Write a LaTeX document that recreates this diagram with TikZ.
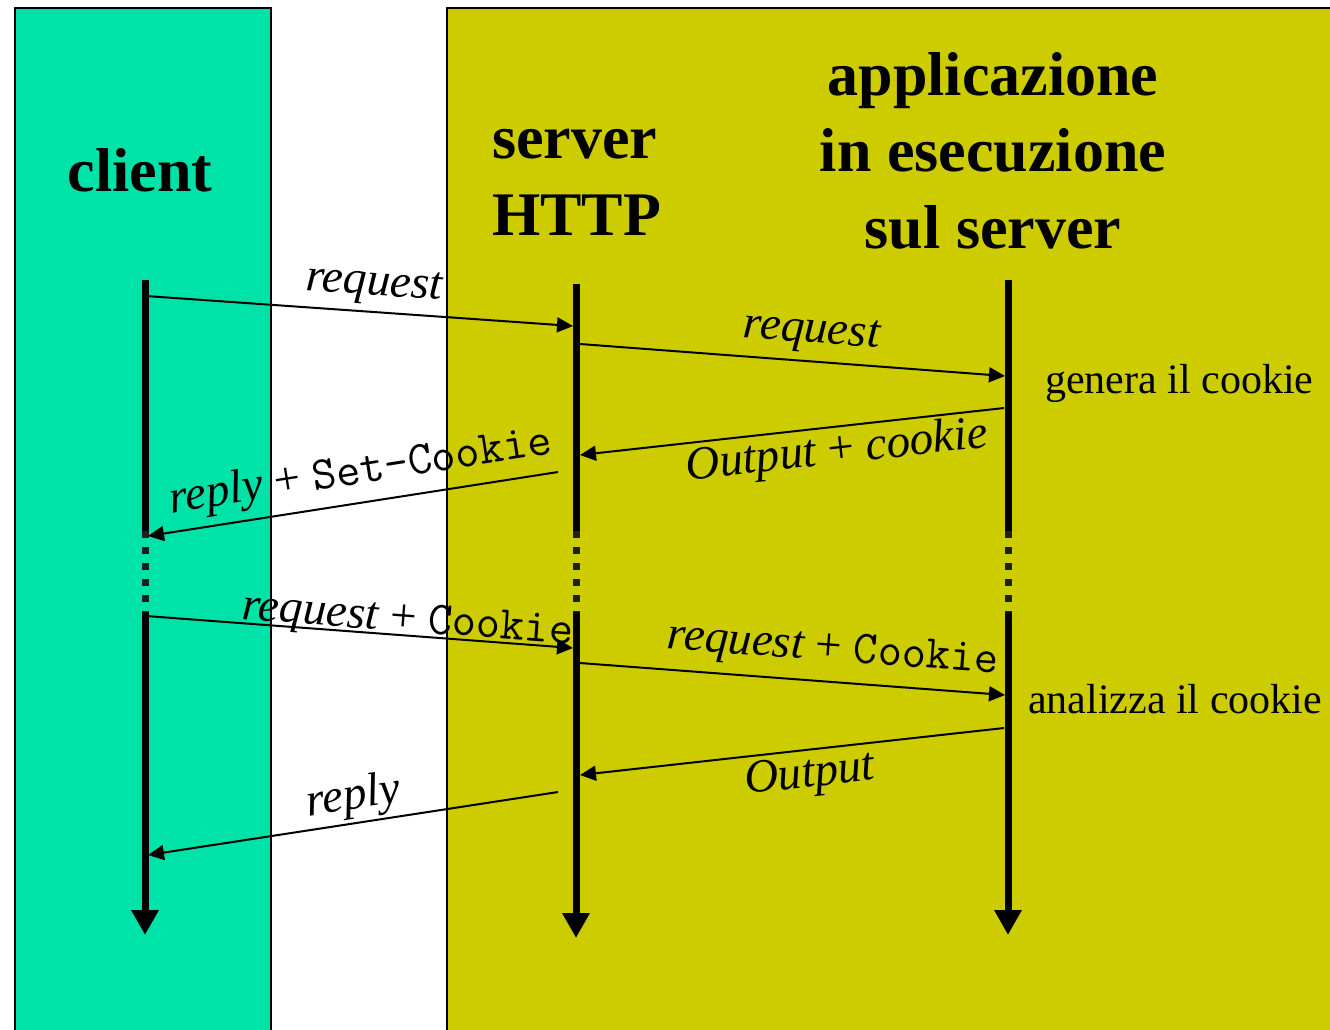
\documentclass[tikz,border=0pt]{standalone}
\usepackage{fontspec}
\setmainfont{Liberation Serif}
\usetikzlibrary{arrows.meta}
\definecolor{clientGreen}{RGB}{0,227,168}
\definecolor{serverOlive}{RGB}{204,204,0}
\newcommand{\cookieText}[1]{{\upshape\ttfamily\fontsize{47}{50}\selectfont #1}}

\begin{document}
\begin{tikzpicture}
[x=1pt,y=-1pt,%
  boxDecorate/.style={draw=black,line width=2pt},%
  headDecorate/.style={font=\fontsize{62}{75}\selectfont\bfseries,inner sep=0pt},%
  noteDecorate/.style={font=\fontsize{42}{50}\selectfont,inner sep=0pt,anchor=base west},%
  lifeDecorate/.style={line width=7pt},%
  tipDecorate/.style={lifeDecorate,-{Triangle[length=25pt,width=26pt]}},%
  gapDecorate/.style={lifeDecorate,draw=black!88,dash pattern=on 7pt off 9pt},%
  lineDecorate/.style={line width=2pt,-{Triangle[length=16pt,width=15pt]}},%
  labelDecorate/.style={font=\fontsize{47}{50}\selectfont\itshape,inner sep=0pt,sloped,anchor=base}]
\useasboundingbox (0,0) rectangle (1330,1029);
%% the two sides
\path[boxDecorate,fill=clientGreen] (15,8) rectangle (271,1045);
\path[boxDecorate,fill=serverOlive] (447,8) rectangle (1345,1045);
%% headings
\node[headDecorate,anchor=base] (client) at (140,191) {client};
\node[headDecorate,anchor=base west] (serverA) at (492,158) {server};
\node[headDecorate,anchor=base west] (serverB) at (492,235) {HTTP};
\foreach \nodename/\y/\words in {appA/95/applicazione, appB/171/in esecuzione, appC/248/sul server}
  \node[headDecorate,anchor=base] (\nodename) at (993,\y) {\words};
%% life lines
\foreach \nodename/\x/\top/\tip in {cl/145/280/935, sv/576/284/938, ap/1008/280/935}
{
  \coordinate (\nodename Top) at (\x,\top);
  \coordinate (\nodename GapA) at (\x,531);
  \coordinate (\nodename GapB) at (\x,612);
  \coordinate (\nodename Tip) at (\x,\tip);
  \draw[lifeDecorate] (\nodename Top) -- (\nodename GapA);
  \draw[gapDecorate] (\nodename GapA) -- (\nodename GapB);
  \draw[tipDecorate] (\nodename GapB) -- (\nodename Tip);
}
%% message ends
\foreach \nodename/\x/\y in {
  m1a/146/296, m1b/573/326, m2a/580/344, m2b/1005/376,
  m3a/1004/408, m3b/580/455, m4a/558/472, m4b/148/536,
  m5a/146/616, m5b/573/648, m6a/580/663, m6b/1005/695,
  m7a/1004/728, m7b/580/775, m8a/558/792, m8b/148/855}
  \coordinate (\nodename) at (\x,\y);
%% messages and their labels
\draw[lineDecorate] (m1a) -- node[labelDecorate,pos=0.53,yshift=17pt] {request} (m1b);
\draw[lineDecorate] (m2a) -- node[labelDecorate,pos=0.54,yshift=19pt] {request} (m2b);
\draw[lineDecorate] (m3a) -- node[labelDecorate,pos=0.40,yshift=-37pt] {Output {\upshape +} cookie} (m3b);
\draw[lineDecorate] (m4a) -- node[labelDecorate,pos=0.47,yshift=19pt] {reply {\upshape +} \cookieText{Set-Cookie}} (m4b);
\draw[lineDecorate] (m5a) -- node[labelDecorate,pos=0.61,yshift=4pt] {request {\upshape +} \cookieText{Cookie}} (m5b);
\draw[lineDecorate] (m6a) -- node[labelDecorate,pos=0.59,yshift=21pt] {request {\upshape +} \cookieText{Cookie}} (m6b);
\draw[lineDecorate] (m7a) -- node[labelDecorate,pos=0.465,yshift=-37pt] {Output} (m7b);
\draw[lineDecorate] (m8a) -- node[labelDecorate,pos=0.49,yshift=14pt] {reply} (m8b);
%% notes on the application
\node[noteDecorate] (genera) at (1045,393) {genera il cookie};
\node[noteDecorate] (analizza) at (1028,713) {analizza il cookie};
\end{tikzpicture}
\end{document}
